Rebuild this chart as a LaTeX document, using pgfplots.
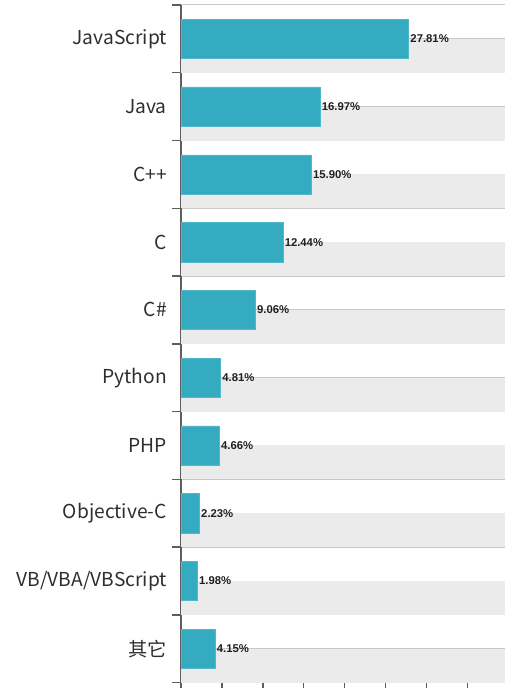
\documentclass[border=0pt]{standalone}
\usepackage{pgfplots}
\pgfplotsset{compat=1.18}
\usepackage{fontspec}
\setmainfont{Liberation Sans}
\newfontfamily\cjk{Noto Sans CJK SC}
\definecolor{barc}{HTML}{34ABC0}
\definecolor{band}{HTML}{EBEBEB}
\definecolor{gridc}{HTML}{C8C8C8}
\definecolor{axisc}{HTML}{5E5E5E}
\begin{document}
\begin{tikzpicture}
\begin{axis}[
  set layers=standard,
  scale only axis, width=327.2pt, height=677.7pt,
  xmin=0, xmax=40, ymin=-0.5, ymax=9.5,
  axis x line*=bottom, axis y line*=left,
  axis line style={axisc, line width=1.4pt},
  xtick={0,5,...,40}, xticklabels={},
  ytick={0,...,9},
  yticklabels={{其它},{VB/VBA/VBScript},{Objective-C},{PHP},{Python},{C\#},{C},{C++},{Java},{JavaScript}},
  minor ytick={-0.5,0.5,...,9.5},
  tick align=outside,
  major tick length=10pt, minor tick length=9pt,
  major x tick style={axisc, line width=1.4pt},
  major y tick style={draw=none},
  minor y tick style={axisc, line width=1.4pt},
  ymajorgrids, yminorgrids,
  major grid style={gridc, line width=1pt},
  minor grid style={gridc, line width=1pt},
  yticklabel style={font=\cjk\fontsize{19.2}{22}\selectfont, text=black!82, inner sep=4pt},
  /pgf/number format/assume math mode=true,
  xbar, bar width=0.58,
  point meta=x,
  nodes near coords={\pgfmathprintnumber[fixed,fixed zerofill,precision=2]{\pgfplotspointmeta}\%},
  every node near coord/.append style={anchor=west, inner sep=1.8pt,
     font=\bfseries\fontsize{11.3}{13}\selectfont, text=black!88},
]
\pgfplotsinvokeforeach{0,...,9}{
  \fill[band, on layer=axis background] (axis cs:0,#1-0.5) rectangle (axis cs:40,#1);
}
\addplot[fill=barc, draw=barc!85!white, line width=0.4pt] coordinates {
  (4.15,0) (1.98,1) (2.23,2) (4.66,3) (4.81,4) (9.06,5) (12.44,6) (15.90,7) (16.97,8) (27.81,9)
};
\coordinate (O) at (rel axis cs:0,0);
\end{axis}
\pgfresetboundingbox
\path[use as bounding box] (O) ++(-181pt,-5.3pt) rectangle ++(504pt,688pt);
\end{tikzpicture}
\end{document}
